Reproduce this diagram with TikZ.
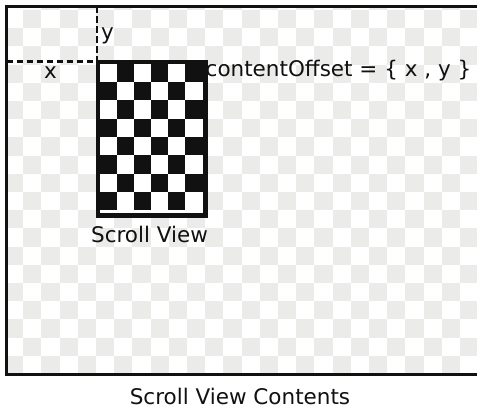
\documentclass[tikz,border=0pt]{standalone}
\usepackage{fontspec}
\setmainfont{DejaVu Sans}
\definecolor{tilegray}{HTML}{EBEBE9}
\definecolor{inkdark}{HTML}{111111}
\tikzset{
  frameline/.style={draw=inkdark, line width=3pt},
  offsetline/.style={draw=inkdark, line width=2.2pt, dash pattern=on 6.5pt off 3.5pt},
  bgtile/.style={fill=tilegray},
  label/.style={font=\fontsize{21.5}{25}\selectfont, text=inkdark, inner sep=0pt},
}
\begin{document}
\begin{tikzpicture}[x=1pt, y=-1pt]
  \useasboundingbox (0,0) rectangle (477,409);
  \fill[white] (0,0) rectangle (477,409);

  % faint checkerboard filling the content area
  \begin{scope}
    \clip (6.5,6.5) rectangle (480,374);
    \foreach \i in {0,...,26} {
      \foreach \j in {-1,...,20} {
        \pgfmathtruncatemacro{\odd}{mod(\i+\j,2)}
        \ifnum\odd=1
          \fill[bgtile] ({5+18.2*\i},{10+18.2*\j}) rectangle ++(18.2,18.2);
        \fi
      }
    }
  \end{scope}

  % content frame (open to the right)
  \draw[frameline] (485,6.5) -- (6.5,6.5) -- (6.5,374) -- (485,374);
  \coordinate (frameleft) at (6.5,61.5);
  \coordinate (frametop) at (97,6.5);

  % scroll view: black and white checker
  \node[draw=inkdark, line width=3pt, fill=white, minimum width=106pt, minimum height=152pt,
        inner sep=0pt, anchor=north west] (sv) at (97,61.5) {};
  \foreach \i in {0,...,5} {
    \foreach \j in {0,...,7} {
      \pgfmathtruncatemacro{\odd}{mod(\i+\j,2)}
      \ifnum\odd=1
        \fill[inkdark] ({99.5+17.17*\i},{63.8+18.3*\j}) rectangle ++(17.17,18.3);
      \fi
    }
  }
  \draw[draw=inkdark, line width=3pt] (sv.north west) rectangle (sv.south east);

  % offset guides
  \draw[offsetline] (frameleft) -- (sv.north west);
  \draw[offsetline] (frametop) -- (sv.north west);

  % labels
  \node[label, anchor=base] (xlabel) at (50.5,78.5) {x};
  \node[label, anchor=base west] (ylabel) at (101,39.5) {y};
  \node[label, anchor=base west] (offset) at (205.5,77) {contentOffset = \{ x , y \}};
  \node[label, anchor=base] (svlabel) at (149.5,243) {Scroll View};
  \node[label, anchor=base] (contents) at (240,404) {Scroll View Contents};
\end{tikzpicture}
\end{document}
